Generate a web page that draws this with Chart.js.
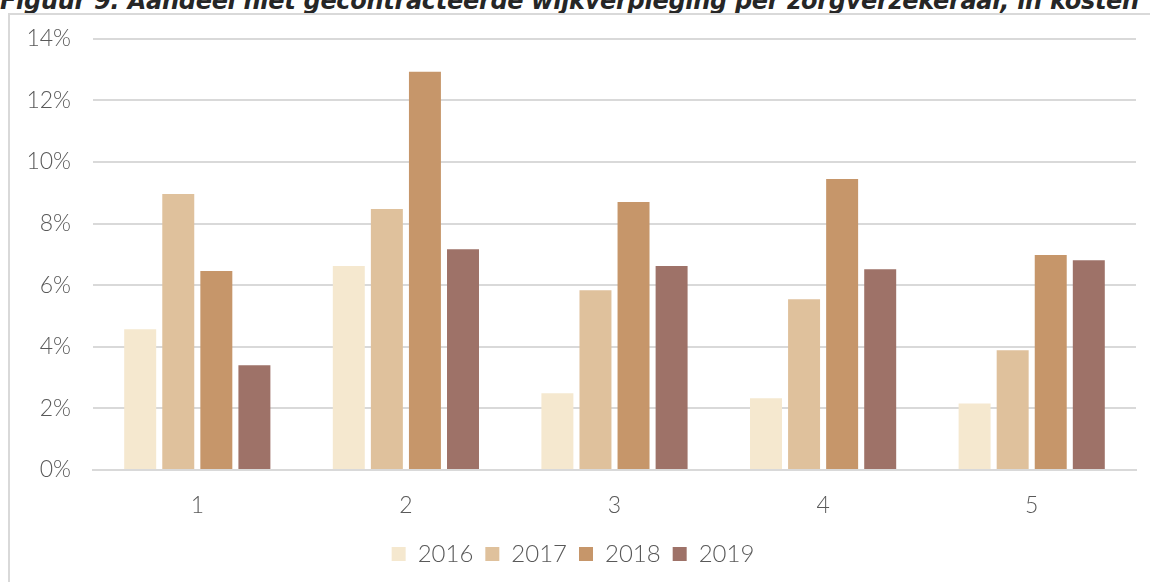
<!DOCTYPE html>
<html>
<head>
<meta charset="utf-8">
<script src="https://cdn.jsdelivr.net/npm/chart.js@4"></script>
<style>
  body { margin: 0; background: #fff; width: 1150px; height: 582px; overflow: hidden; position: relative; }
  #title { position: absolute; left: 0; top: -13px; font: italic bold 24px "DejaVu Sans", sans-serif; color: #262626; white-space: nowrap; letter-spacing: -0.3px; }
  #box { position: absolute; left: 8px; top: 13px; width: 1160px; height: 600px; border-left: 2px solid #d9d9d9; border-top: 2px solid #d9d9d9; background: #fff; }
  #wrap { position: absolute; left: 0; top: -12px; width: 1140px; height: 579px; }
</style>
</head>
<body>
<div id="title">Figuur 9: Aandeel niet gecontracteerde wijkverpleging per zorgverzekeraar, in kosten</div>
<div id="box"><div id="wrap"><canvas id="c"></canvas></div></div>
<script>
// Zorgverzekeraars 1..5, share of non-contracted district nursing (in %)
const categories = ['1', '2', '3', '4', '5']
const years = ['2016', '2017', '2018', '2019']
const v2016 = [4.57, 6.62, 2.49, 2.33, 2.16]
const v2017 = [8.96, 8.47, 5.84, 5.54, 3.89]
const v2018 = [6.46, 12.93, 8.70, 9.45, 6.98]
const v2019 = [3.40, 7.17, 6.62, 6.52, 6.81]
const yTicks = [0, 2, 4, 6, 8, 10, 12, 14]

const COLORS = ['#f5e8cf', '#dfc19c', '#c6966a', '#9e7268']
const GRID = '#d9d9d9'
const TEXT = '#595959'
const FONT = 'Lato, "Open Sans", sans-serif'

const series = [v2016, v2017, v2018, v2019]

new Chart(document.getElementById('c'), {
  type: 'bar',
  data: {
    labels: categories,
    datasets: years.map((y, i) => ({
      label: y,
      data: series[i],
      backgroundColor: COLORS[i],
      categoryPercentage: 0.73,
      barPercentage: 0.84
    }))
  },
  options: {
    responsive: true,
    maintainAspectRatio: false,
    animation: false,
    layout: { padding: { left: 0, right: 14, top: 8, bottom: 6 } },
    plugins: {
      legend: {
        position: 'bottom',
        labels: { boxWidth: 14, boxHeight: 14, padding: 12, color: TEXT, font: { family: FONT, size: 24, weight: '300' } }
      },
      tooltip: { enabled: false }
    },
    scales: {
      y: {
        min: 0, max: 14,
        afterBuildTicks: s => { s.ticks = yTicks.map(v => ({ value: v })) },
        afterFit: s => { s.width = 83 },
        border: { display: false },
        grid: { color: GRID, lineWidth: 2, drawTicks: false },
        ticks: { padding: 22, color: TEXT, font: { family: FONT, size: 23, weight: '300' }, callback: v => v + '%' }
      },
      x: {
        afterFit: s => { s.height = 60 },
        border: { color: GRID, width: 2 },
        grid: { display: false, drawTicks: false },
        ticks: { padding: 22, color: TEXT, font: { family: FONT, size: 23, weight: '300' } }
      }
    }
  }
})
</script>
</body>
</html>
